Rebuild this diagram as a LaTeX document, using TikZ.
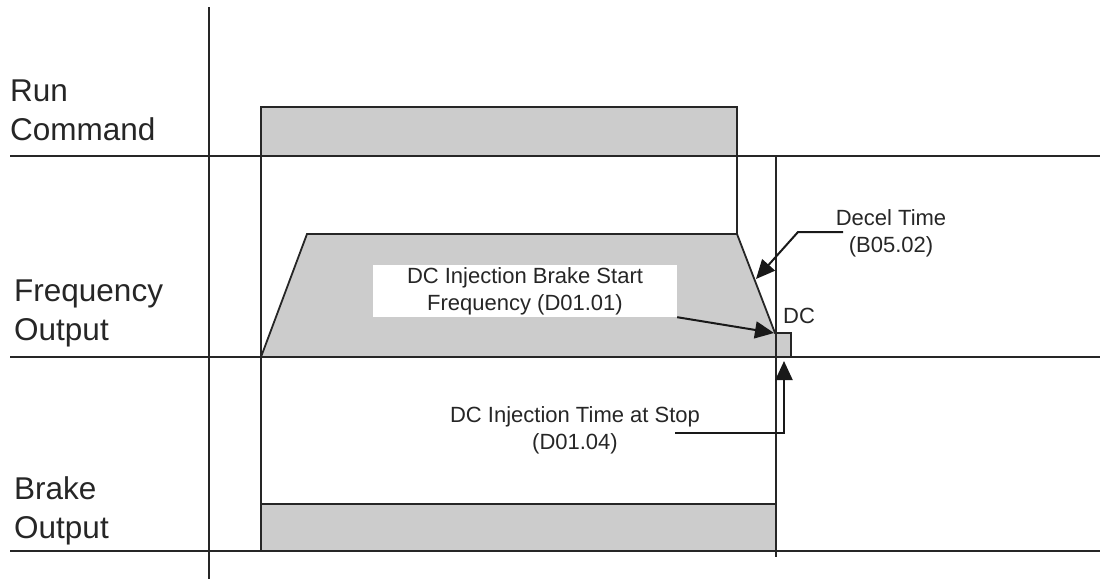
\documentclass[tikz,border=0pt]{standalone}
\usepackage{fontspec}
\setmainfont{Liberation Sans}
\usetikzlibrary{arrows.meta,positioning}

\tikzset{
  axisline/.style={line width=2.8pt, draw=black!85},
  edgeline/.style={line width=1.7pt, draw=black!85},
  wave/.style={fill=black!20, draw=black!85, line width=1.8pt, line join=miter},
  signame/.style={font=\fontsize{31.5}{39}\selectfont, text=black!85, align=left, inner sep=0pt, anchor=base west},
  note/.style={font=\fontsize{22}{27}\selectfont, text=black!85, align=center, inner sep=0pt},
  pointer/.style={line width=2pt, draw=black!90, -{Triangle[length=19pt,width=17pt]}},
}

\begin{document}
\begin{tikzpicture}[x=1pt,y=-1pt]
\useasboundingbox (0,0) rectangle (1100,581);

%Waveforms
\draw[wave] (261,156) rectangle (737,107);
\draw[wave] (261,357) -- (307,234) -- (737,234) -- (775,333) -- (791,333) -- (791,357) -- cycle;
\draw[wave] (261,504) rectangle (776,551);

%Time marks
\coordinate (runon) at (261,107); \coordinate (runonend) at (261,551);
\coordinate (runoff) at (737,107); \coordinate (runoffend) at (737,234);
\coordinate (stop) at (776,156); \coordinate (stopend) at (776,557);
\draw[edgeline] (runon)--(runonend); \draw[edgeline] (runoff)--(runoffend); \draw[edgeline] (stop)--(stopend);

%Axes
\coordinate (ytop) at (209,7); \coordinate (ybot) at (209,579);
\coordinate (runL) at (10,156); \coordinate (runR) at (1100,156);
\coordinate (freqL) at (10,357); \coordinate (freqR) at (1100,357);
\coordinate (brakeL) at (10,551); \coordinate (brakeR) at (1100,551);
\draw[axisline] (runL)--(runR); \draw[axisline] (freqL)--(freqR); \draw[axisline] (brakeL)--(brakeR);
\draw[axisline] (ytop)--(ybot);

%Signal names (base = last line)
\node[signame] (runname) at (10,140) {Run\\Command};
\node[signame] (freqname) at (14,340) {Frequency\\Output};
\node[signame] (brakename) at (14,538) {Brake\\Output};

%Notes
\node[note, fill=white, minimum width=304pt, minimum height=52pt] (dcfreq) at (525,291) {DC Injection Brake Start\\Frequency (D01.01)};
\node[note] (decel) at (891,233) {Decel Time\\(B05.02)};
\node[note, anchor=base west] (dcmark) at (783,323) {DC};
\node[note] (dctime) at (575,430) {DC Injection Time at Stop\\(D01.04)};

%Pointers
\coordinate (decelfoot) at (843,232); \coordinate (decelbend) at (798,232); \coordinate (decelhit) at (756,279);
\coordinate (dcfreqhit) at (774,333);
\coordinate (dctimefoot) at (675,433); \coordinate (dctimehit) at (784,361);
\draw[pointer] (decelfoot) -- (decelbend) -- (decelhit);
\draw[pointer] (dcfreq.south east) -- (dcfreqhit);
\draw[pointer] (dctimefoot) -| (dctimehit);

\end{tikzpicture}
\end{document}
